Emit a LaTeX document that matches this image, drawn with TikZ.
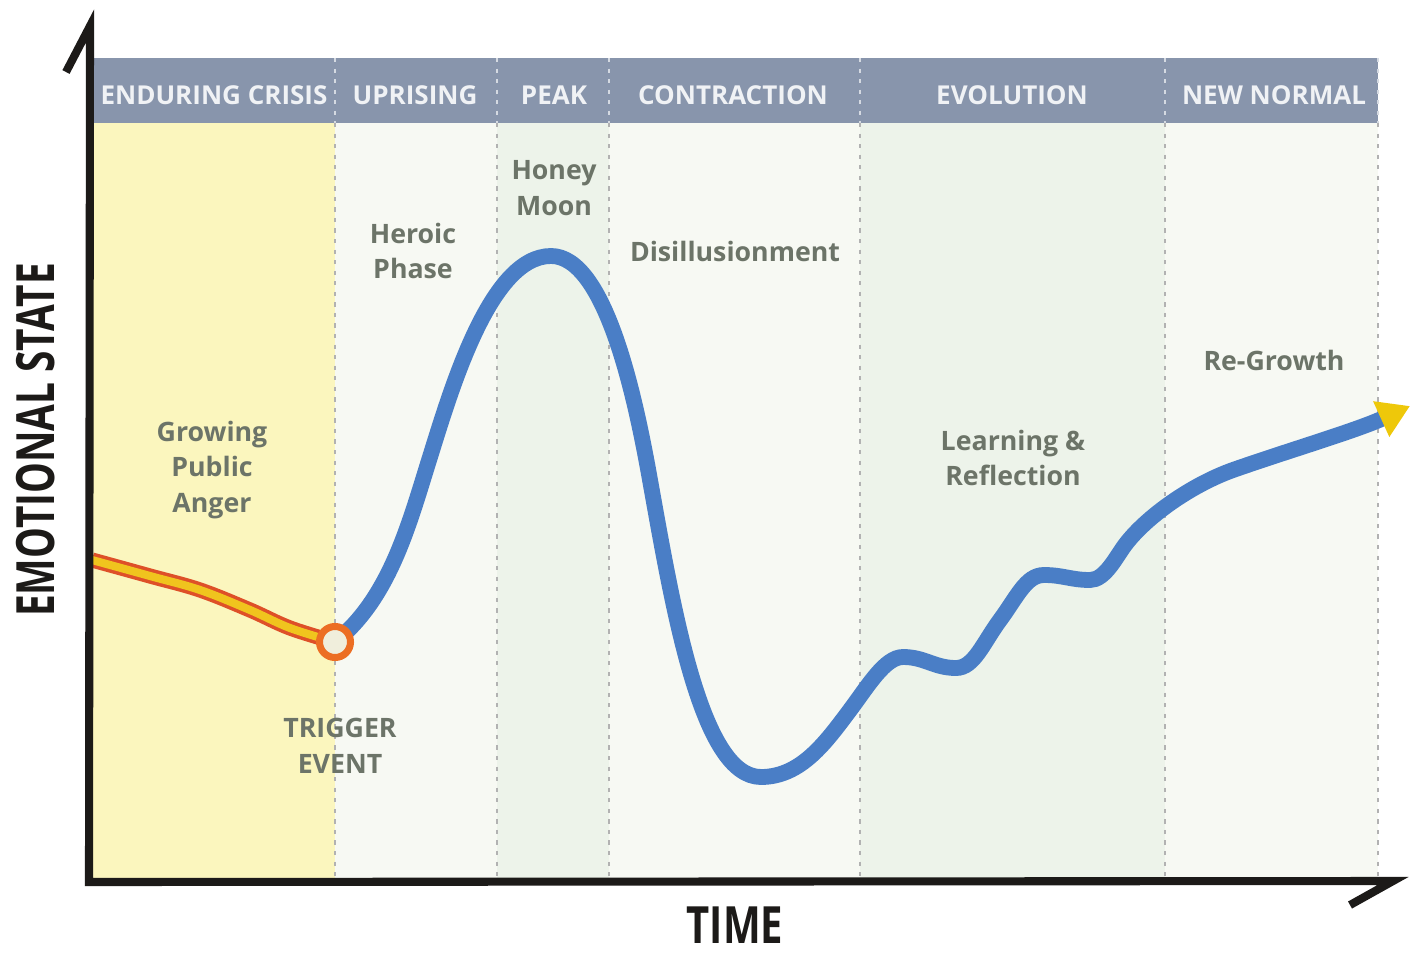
\documentclass[tikz,border=0pt]{standalone}
\usepackage{fontspec}
\setmainfont{Open Sans}
\newfontfamily\timefont[FakeStretch=0.78]{Open Sans}
\newfontfamily\statefont[FakeStretch=0.735]{Open Sans}
\usepackage{xcolor}
\usepackage{tikz}
\usetikzlibrary{arrows.meta}

\definecolor{bandgray}{RGB}{136,149,172}
\definecolor{headtext}{RGB}{240,242,245}
\definecolor{labelgray}{RGB}{108,116,104}
\definecolor{crisisyellow}{RGB}{251,246,190}
\definecolor{paleground}{RGB}{247,249,243}
\definecolor{greenground}{RGB}{237,243,234}
\definecolor{curveblue}{RGB}{74,126,198}
\definecolor{angerred}{RGB}{222,80,40}
\definecolor{angeryellow}{RGB}{240,196,30}
\definecolor{triggerorange}{RGB}{236,110,35}
\definecolor{triggerfill}{RGB}{240,238,220}
\definecolor{tipyellow}{RGB}{238,200,10}
\definecolor{axisblack}{RGB}{28,26,24}

\begin{document}
\begin{tikzpicture}[
x=0.01cm, y=-0.01cm,
phase label/.style = {text=headtext, inner sep=0pt, font=\bfseries\fontsize{7.4}{9}\selectfont},
stage label/.style = {text=labelgray, align=center, inner sep=0pt, font=\bfseries\fontsize{7.6}{10.2}\selectfont},
axis label/.style = {text=axisblack, inner sep=0pt},
divider/.style = {gray!60, line width=0.45pt, dash pattern=on 1.2pt off 1.8pt},
band divider/.style = {white!65!bandgray, line width=0.45pt, dash pattern=on 1.2pt off 1.8pt},
axis line/.style = {axisblack, line width=2.3pt, line join=miter},
growth curve/.style = {curveblue, line width=4.5pt, line cap=round},
anger curve/.style = {draw=angerred, line width=1pt, double=angeryellow, double distance=2.3pt}
]

\useasboundingbox (0,0) rectangle (1416,955);
\fill[white] (0,0) rectangle (1416,955);

\fill[crisisyellow] (92,123) rectangle (335,878);
\fill[paleground]   (335,123) rectangle (497,878);
\fill[greenground]  (497,123) rectangle (609,878);
\fill[paleground]   (609,123) rectangle (860,878);
\fill[greenground]  (860,123) rectangle (1165,878);
\fill[paleground]   (1165,123) rectangle (1378,878);

\fill[bandgray] (92,58) rectangle (1378,123);

\foreach \x in {335,497,609,860,1165,1378} {
  \draw[band divider] (\x,58) -- (\x,123);
  \draw[divider] (\x,123) -- (\x,878);
}

\node (crisis) at (214,95) [phase label] {ENDURING CRISIS};
\node (uprising) at (415,95) [phase label] {UPRISING};
\node (peak) at (554,95) [phase label] {PEAK};
\node (contraction) at (733,95) [phase label] {CONTRACTION};
\node (evolution) at (1012,95) [phase label] {EVOLUTION};
\node (new normal) at (1274,95) [phase label] {NEW NORMAL};

\node (anger) at (212,470) [stage label] {Growing\\Public\\Anger};
\node (trigger label) at (340,746) [stage label] {TRIGGER\\EVENT};
\node (heroic) at (413,251) [stage label] {Heroic\\Phase};
\node (honey moon) at (554,188) [stage label] {Honey\\Moon};
\node (disillusion) at (735,251) [stage label] {Disillusionment};
\node (learning) at (1013,458) [stage label] {Learning \&\\Reflection};
\node (regrowth) at (1274,360) [stage label] {Re-Growth};

\coordinate (trigger) at (335,642);
\coordinate (growth end) at (1410,406);

\draw[anger curve] plot[smooth, tension=0.6] coordinates {(92,560) (150,576) (200,590) (250,610) (290,628) (trigger)};

\draw[growth curve, -{Triangle[length=9pt, width=10.5pt, color=tipyellow, fill=tipyellow]}]
  (trigger) .. controls (390,598) and (409,524) .. (430,457)
  .. controls (451,390) and (490,256) .. (551,256)
  .. controls (606,256) and (636,401) .. (650,480)
  .. controls (673,608) and (701,777) .. (761,777)
  .. controls (801,777) and (826,742) .. (850,710)
  .. controls (868,686) and (885,657) .. (903,657)
  .. controls (925,657) and (934,668) .. (956,668)
  .. controls (974,668) and (983,643) .. (1000,620)
  .. controls (1017,597) and (1026,575) .. (1044,575)
  .. controls (1063,575) and (1071,580) .. (1090,580)
  .. controls (1105,580) and (1116,557) .. (1125,545)
  .. controls (1146,517) and (1191,485) .. (1233,470)
  .. controls (1290,450) and (1355,431) .. (growth end);

\node (trigger point) at (trigger) [circle, draw=triggerorange, line width=2pt, fill=triggerfill, minimum size=0.31cm, inner sep=0pt] {};

\draw[axis line] (66,72) -- (90,26) -- (89,882) -- (1393,881) -- (1350,905);

\node (state axis) at (36,440) [axis label, rotate=90, font=\statefont\bfseries\fontsize{15}{18}\selectfont] {EMOTIONAL STATE};
\node (time axis) at (735,925) [axis label, font=\timefont\bfseries\fontsize{14.6}{18}\selectfont] {TIME};
\end{tikzpicture}
\end{document}
